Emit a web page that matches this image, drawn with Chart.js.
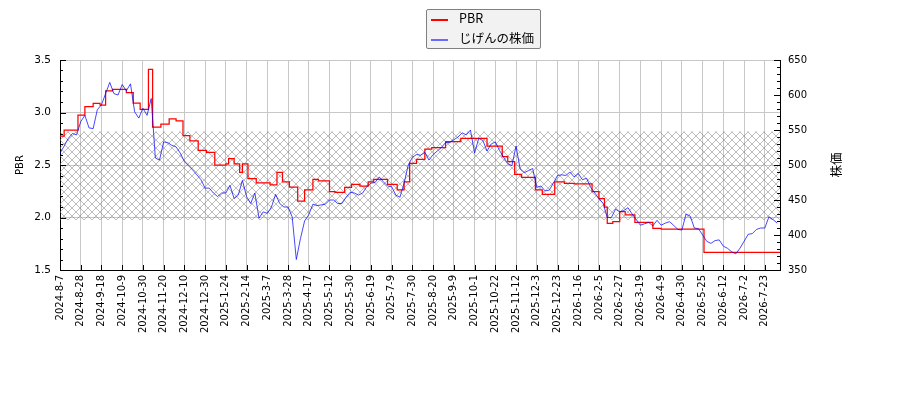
<!DOCTYPE html>
<html lang="ja">
<head>
<meta charset="UTF-8" />
<title>PBR と じげんの株価</title>
<script src="https://cdn.jsdelivr.net/npm/chart.js@4.4.1/dist/chart.umd.min.js"></script>
<style>
  body { margin: 0; background: #fff; }
  #wrap { position: relative; width: 900px; height: 400px; }
  #legend {
    position: absolute; left: 426px; top: 9px; width: 113px; height: 38px;
    background: #f2f2f2; border: 1px solid #808080; border-radius: 2px;
    font-family: "Noto Sans CJK JP", "DejaVu Sans", sans-serif; font-size: 12.5px; color: #000;
  }
  #legend .row { position: absolute; left: 4px; height: 16px; line-height: 16px; white-space: nowrap; }
  #legend .sw { display: inline-block; width: 17px; height: 0; vertical-align: middle; margin-right: 11px; }
</style>
</head>
<body>
<div id="wrap">
  <canvas id="canvas" width="900" height="400"></canvas>
  <div id="legend">
    <div class="row" style="top:0px"><span class="sw" style="border-top:2px solid #ff0000"></span>PBR</div>
    <div class="row" style="top:20px"><span class="sw" style="border-top:2px solid #6b6bff"></span>じげんの株価</div>
  </div>
</div>
<script>
// x axis ticks: every 15 trading days
var tickLabels = [
  "2024-8-7", "2024-8-28", "2024-9-18", "2024-10-9", "2024-10-30", "2024-11-20",
  "2024-12-10", "2024-12-30", "2025-1-24", "2025-2-14", "2025-3-7", "2025-3-28",
  "2025-4-17", "2025-5-12", "2025-5-30", "2025-6-19", "2025-7-9", "2025-7-30",
  "2025-8-20", "2025-9-9", "2025-10-1", "2025-10-22", "2025-11-12", "2025-12-3",
  "2025-12-23", "2026-1-16", "2026-2-5", "2026-2-27", "2026-3-19", "2026-4-9",
  "2026-4-30", "2026-5-25", "2026-6-12", "2026-7-2", "2026-7-23"
];
var tickEvery = 15;
var lastDay = 521;

// share price, one reading every 3 trading days
var priceEvery = 3;
var priceValues = [
  517, 527, 538, 545, 543, 562, 571, 553, 552, 579,
  586, 602, 618, 602, 600, 615, 606, 616, 576, 567,
  581, 571, 595, 510, 507, 533, 532, 528, 526, 517,
  505, 499, 493, 486, 479, 467, 467, 460, 455, 460,
  460, 471, 452, 457, 478, 455, 445, 460, 424, 433,
  431, 440, 458, 445, 440, 440, 426, 365, 395, 420,
  429, 444, 442, 443, 444, 450, 450, 445, 445, 454,
  461, 460, 457, 460, 469, 474, 475, 483, 476, 470,
  469, 457, 454, 474, 500, 511, 515, 514, 518, 507,
  515, 520, 525, 532, 532, 536, 540, 546, 543, 550,
  517, 538, 535, 520, 530, 533, 521, 511, 502, 499,
  527, 494, 489, 492, 495, 468, 470, 463, 464, 474,
  485, 486, 485, 490, 483, 488, 479, 481, 468, 460,
  452, 445, 425, 425, 437, 433, 435, 439, 430, 422,
  414, 416, 418, 413, 421, 414, 417, 419, 414, 408,
  407, 430, 427, 410, 409, 400, 391, 388, 392, 393,
  384, 381, 376, 373, 381, 391, 401, 402, 408, 410,
  410, 426, 422, 417
];

// PBR: day where a new value starts, and the value
var pbrDays = [
  0, 3, 13, 18, 24, 29, 33, 38, 48, 53, 58, 64, 67, 73, 79, 84, 89, 94, 100, 106,
  112, 120, 122, 126, 130, 132, 136, 142, 152, 157, 161, 166, 172, 177, 183, 187, 195, 199, 206, 211,
  217, 223, 227, 237, 244, 249, 253, 258, 264, 269, 279, 290, 309, 320, 324, 329, 334, 344, 349, 358,
  365, 372, 385, 390, 394, 396, 400, 405, 409, 416, 429, 435, 466, 521
];
var pbrValues = [
  2.776, 2.833, 2.976, 3.056, 3.087, 3.07, 3.205, 3.22, 3.19, 3.09, 3.03, 3.41, 2.86, 2.89, 2.94, 2.92, 2.78, 2.73, 2.64, 2.62,
  2.50, 2.51, 2.56, 2.51, 2.43, 2.51, 2.37, 2.33, 2.31, 2.43, 2.34, 2.29, 2.157, 2.262, 2.363, 2.348, 2.246, 2.24, 2.287, 2.316,
  2.30, 2.34, 2.363, 2.316, 2.262, 2.34, 2.516, 2.554, 2.652, 2.665, 2.722, 2.754, 2.68, 2.579, 2.532, 2.411, 2.383, 2.262, 2.22, 2.34,
  2.325, 2.32, 2.246, 2.18, 2.10, 1.944, 1.96, 2.056, 2.024, 1.954, 1.897, 1.89, 1.668, 1.668
];

// hatched PBR band
var bandTop = 2.818;
var bandBottom = 1.976;

var canvas = document.getElementById("canvas");
var ctx = canvas.getContext("2d");

function makeHatch() {
    var c = document.createElement("canvas");
    c.width = 8;
    c.height = 8;
    var g = c.getContext("2d");
    g.strokeStyle = "rgba(120,120,120,0.7)";
    g.lineWidth = 0.7;
    g.beginPath();
    g.moveTo(0, 0); g.lineTo(8, 8);
    g.moveTo(8, 0); g.lineTo(0, 8);
    g.stroke();
    return ctx.createPattern(c, "repeat");
}

var priceData = priceValues.map(function (v, i) { return { x: i * priceEvery, y: v }; });
var pbrData = pbrDays.map(function (d, i) { return { x: d, y: pbrValues[i] }; });

// tick marks pointing into the plot, plus right axis title
var tickMarks = {
    id: "tickMarks",
    afterDraw: function (chart) {
        var c = chart.ctx, a = chart.chartArea, s = chart.scales;
        c.save();
        c.strokeStyle = "#000";
        c.lineWidth = 1;
        c.beginPath();
        s.x.ticks.forEach(function (t) {
            var px = Math.round(s.x.getPixelForValue(t.value)) + 0.5;
            c.moveTo(px, a.bottom);
            c.lineTo(px, a.bottom - 5);
        });
        for (var k = 0; k <= 20; k++) {
            var py = Math.round(s.y.getPixelForValue(1.5 + k * 0.1)) + 0.5;
            c.moveTo(a.left, py);
            c.lineTo(a.left + (k % 5 === 0 ? 6 : 3), py);
        }
        for (var m = 0; m <= 30; m++) {
            var qy = Math.round(s.y2.getPixelForValue(350 + m * 10)) + 0.5;
            c.moveTo(a.right, qy);
            c.lineTo(a.right - (m % 5 === 0 ? 6 : 3), qy);
        }
        c.stroke();
        c.translate(a.right + 56, (a.top + a.bottom) / 2);
        c.rotate(-Math.PI / 2);
        c.font = '12.5px "Noto Sans CJK JP"';
        c.fillStyle = "#000";
        c.textAlign = "center";
        c.textBaseline = "middle";
        c.fillText("株価", 0, 0);
        c.restore();
    }
};

var tickFont = { family: "DejaVu Sans", size: 10 };

var config = {
    type: "line",
    data: {
        datasets: [
            {
                label: "じげんの株価",
                data: priceData,
                yAxisID: "y2",
                borderColor: "rgba(0,0,255,0.72)",
                borderWidth: 1,
                pointRadius: 0,
                tension: 0,
                order: 1
            },
            {
                label: "PBR",
                data: pbrData,
                yAxisID: "y",
                stepped: true,
                borderColor: "#ff0000",
                borderWidth: 1.25,
                pointRadius: 0,
                order: 2
            },
            {
                label: "band",
                data: [{ x: 0, y: bandTop }, { x: lastDay, y: bandTop }],
                yAxisID: "y",
                borderWidth: 0,
                pointRadius: 0,
                backgroundColor: makeHatch(),
                fill: "+1",
                order: 3
            },
            {
                label: "band2",
                data: [{ x: 0, y: bandBottom }, { x: lastDay, y: bandBottom }],
                yAxisID: "y",
                borderWidth: 0,
                pointRadius: 0,
                fill: false,
                order: 4
            }
        ]
    },
    options: {
        responsive: false,
        animation: false,
        layout: { padding: { top: 60, left: 0, right: 0, bottom: 0 } },
        plugins: { legend: { display: false }, tooltip: { enabled: false } },
        scales: {
            x: {
                type: "linear",
                min: 0,
                max: lastDay,
                grid: { color: "#c8c8c8", drawTicks: false },
                border: { color: "#000" },
                ticks: {
                    stepSize: tickEvery,
                    includeBounds: false,
                    autoSkip: false,
                    maxRotation: 90,
                    minRotation: 90,
                    padding: 5,
                    color: "#000",
                    font: tickFont,
                    callback: function (v) {
                        var l = tickLabels[v / tickEvery];
                        return l === undefined ? "" : l;
                    }
                },
                afterFit: function (s) { s.height = 130; }
            },
            y: {
                position: "left",
                min: 1.5,
                max: 3.5,
                grid: { color: "#c8c8c8", drawTicks: false },
                border: { color: "#000" },
                ticks: {
                    stepSize: 0.5,
                    padding: 9,
                    color: "#000",
                    font: { family: "DejaVu Sans", size: 10.5 },
                    callback: function (v) { return v.toFixed(1); }
                },
                title: {
                    display: true,
                    text: "PBR",
                    color: "#000",
                    font: { family: "DejaVu Sans", size: 10 },
                    padding: { top: 14, bottom: 0 }
                },
                afterFit: function (s) { s.width = 60; }
            },
            y2: {
                position: "right",
                min: 350,
                max: 650,
                grid: { drawOnChartArea: false, drawTicks: false },
                border: { color: "#000" },
                ticks: {
                    stepSize: 50,
                    padding: 8,
                    color: "#000",
                    font: tickFont
                },
                afterFit: function (s) { s.width = 120; }
            }
        }
    },
    plugins: [tickMarks]
};

var chart = new Chart(ctx, config);
</script>
</body>
</html>
